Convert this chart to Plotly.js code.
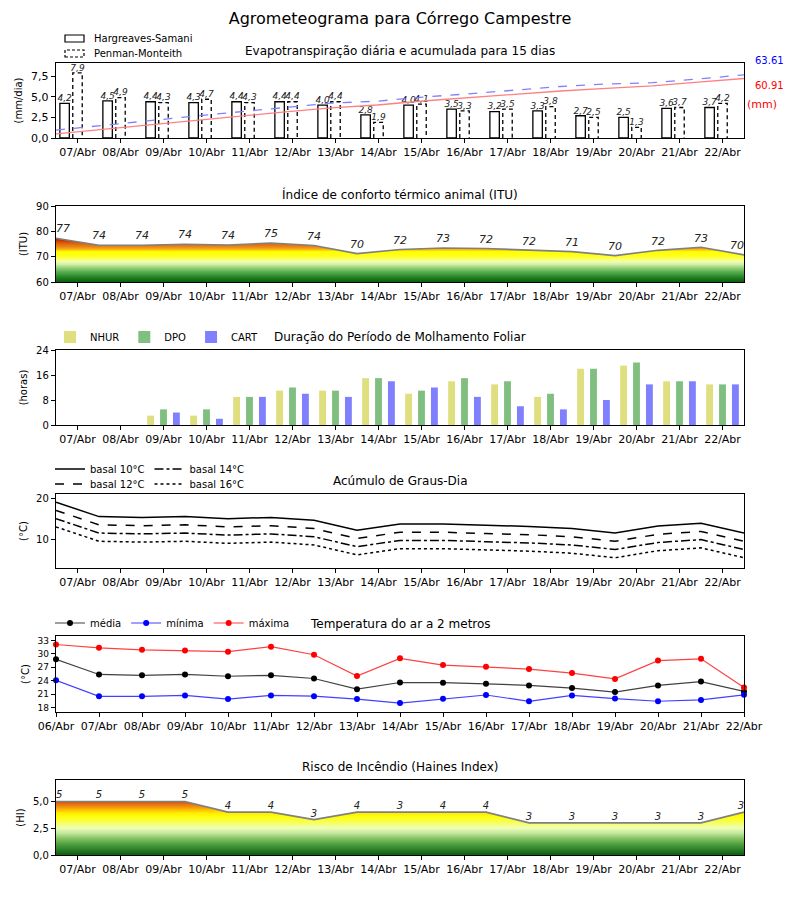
<!DOCTYPE html>
<html><head><meta charset="utf-8">
<script src="https://cdn.plot.ly/plotly-3.0.1.min.js"></script>
<style>body{margin:0;background:#fff}</style>
</head><body><div id="chart" style="width:800px;height:900px"></div>
<script>
// ---------- DATA ----------
const days = ['06/Abr','07/Abr','08/Abr','09/Abr','10/Abr','11/Abr','12/Abr','13/Abr','14/Abr','15/Abr','16/Abr','17/Abr','18/Abr','19/Abr','20/Abr','21/Abr','22/Abr'];
const etHS = [4.2,4.5,4.4,4.3,4.4,4.4,4.0,2.8,4.0,3.5,3.2,3.3,2.7,2.5,3.6,3.7];
const etPM = [7.9,4.9,4.3,4.7,4.3,4.4,4.4,1.9,4.1,3.3,3.5,3.8,2.5,1.3,3.7,4.2];
const etTotalLabels = ['63.61','60.91'];
const itu = [77.3,74.5,74.5,74.9,74.6,75.4,74.4,71.2,72.8,73.4,73.2,72.5,72.0,70.4,72.5,73.7,70.7];
const ituLabels = [77,74,74,74,74,75,74,70,72,73,72,72,71,70,72,73,70];
const nhur = [0,0,3,3,9,11,11,15,10,14,13,9,18,19,14,13];
const dpo  = [0,0,5,5,9,12,11,15,11,15,14,10,18,20,14,13];
const cart = [0,0,4,2,9,10,9,14,12,9,6,5,8,13,14,13];
const gd10 = [19.0,15.5,15.3,15.5,15.0,15.3,14.6,12.2,13.7,13.7,13.4,13.1,12.6,11.5,13.2,13.9,11.5];
const gd12 = [17.0,13.5,13.3,13.5,13.0,13.3,12.6,10.2,11.7,11.7,11.4,11.1,10.6,9.5,11.2,11.9,9.5];
const gd14 = [15.0,11.5,11.3,11.5,11.0,11.3,10.6,8.2,9.7,9.7,9.4,9.1,8.6,7.5,9.2,9.9,7.5];
const gd16 = [13.0,9.5,9.3,9.5,9.0,9.3,8.6,6.2,7.7,7.7,7.4,7.1,6.6,5.5,7.2,7.9,5.5];
const tMedia = [28.8,25.4,25.2,25.4,25.0,25.2,24.5,22.1,23.6,23.55,23.3,22.95,22.35,21.45,22.95,23.8,21.6];
const tMin   = [24.1,20.5,20.5,20.7,19.9,20.7,20.55,19.9,19.0,19.95,20.8,19.4,20.7,20.0,19.4,19.7,20.85];
const tMax   = [32.1,31.35,30.9,30.75,30.5,31.6,29.8,25.05,29.0,27.5,27.1,26.6,25.7,24.4,28.5,28.9,22.5];
const haines = [5,5,5,5,4,4,3.3,4,4,4,4,3,3,3,3,3,4];
const hainesLabels = [5,5,5,5,4,4,3,4,3,4,4,3,3,3,3,3,3];

// ---------- HELPERS ----------
const FONT = 'DejaVu Sans';
const idx = days.map((d,i)=>i);            // 0..16 (06/Abr = 0)
const barDays = idx.slice(1);              // 1..16 (07..22)
const half = idx.map(i=>i+0.5);            // 0.5..16.5
const fmt = v => v.toFixed(1).replace('.', ',');
const cumsum = a => { let s=0; return a.map(v => (s+=v)); };
const L=56, R=744, T=63, B=855;
const px2x = p => (p-L)/(R-L);
const py2y = p => (B-p)/(B-T);
const edgeTextPos = n => idx.map(i => i===0 ? 'top right' : (i===n-1 ? 'top left' : 'top center'));

const hsX = barDays.map(d=>d-0.3);
const pmX = barDays.slice();
const bw = 0.22;
// dashed outline for PM bars
const pmOX=[], pmOY=[];
pmX.forEach((x,i)=>{ pmOX.push(x-bw/2,x-bw/2,x+bw/2,x+bw/2,null); pmOY.push(0,etPM[i],etPM[i],0,null); });
const cumX = etPM.map((v,i)=>0.5 + i*16/(etPM.length-1));

const ituScale = [[0,'#0b5e0b'],[0.05,'#1f7a1f'],[0.1,'#3d9a3d'],[0.15,'#6cb85a'],[0.2,'#a6d98a'],[0.233,'#d4f0a8'],[0.267,'#effdb0'],[0.3,'#fbff70'],[0.333,'#ffff20'],[0.4,'#ffff00'],[0.417,'#ffd000'],[0.44,'#f5a020'],[0.47,'#e88010'],[0.5,'#e06a10'],[0.53,'#d04a08'],[0.567,'#c01800'],[1,'#a00000']];
const hScale = [[0,'#0d5e0d'],[0.071,'#2a7f2a'],[0.143,'#4f9f3f'],[0.214,'#80c060'],[0.286,'#c0e498'],[0.357,'#eeffb8'],[0.429,'#f6ff60'],[0.5,'#ffff10'],[0.557,'#ffee00'],[0.6,'#ffc000'],[0.643,'#f09010'],[0.686,'#e06a10'],[0.714,'#d85000'],[1,'#c03000']];

const traces = [];
// Panel 1 : ET
traces.push({type:'bar', x:hsX, y:etHS, width:bw, xaxis:'x', yaxis:'y', marker:{color:'white', line:{color:'black', width:1.3}}, showlegend:false, hoverinfo:'y'});
traces.push({type:'scatter', mode:'lines', x:pmOX, y:pmOY, xaxis:'x', yaxis:'y', line:{color:'black', width:1.3, dash:'4px,3px'}, showlegend:false, hoverinfo:'skip'});
traces.push({type:'scatter', mode:'text', x:hsX, y:etHS, text:etHS.map(fmt), textposition:'top center', textfont:{family:FONT,size:9,style:'italic',color:'#222'}, xaxis:'x', yaxis:'y', showlegend:false, cliponaxis:false});
traces.push({type:'scatter', mode:'text', x:pmX, y:etPM, text:etPM.map(fmt), textposition:'top center', textfont:{family:FONT,size:9,style:'italic',color:'#222'}, xaxis:'x', yaxis:'y', showlegend:false, cliponaxis:false});
traces.push({type:'scatter', mode:'lines', x:cumX, y:cumsum(etHS), xaxis:'x', yaxis:'y7', line:{color:'#ff8080', width:1.3}, showlegend:false});
traces.push({type:'scatter', mode:'lines', x:cumX, y:cumsum(etPM), xaxis:'x', yaxis:'y7', line:{color:'#8080ff', width:1.3, dash:'dash'}, showlegend:false});
// Panel 2 : ITU
traces.push({type:'scatter', mode:'lines', x:half, y:itu, fill:'tozeroy', fillgradient:{type:'vertical', start:60, stop:90, colorscale:ituScale}, line:{color:'#808080', width:1.6}, xaxis:'x2', yaxis:'y2', showlegend:false});
traces.push({type:'scatter', mode:'text', x:half, y:itu.map(v=>v+1.2), text:ituLabels.map(String), textposition:edgeTextPos(17), textfont:{family:FONT,size:11,style:'italic',color:'#222'}, xaxis:'x2', yaxis:'y2', showlegend:false, cliponaxis:false});
// Panel 3 : wetness
[[nhur,'NHUR','#dfdf80',-0.3],[dpo,'DPO','#80bf80',0],[cart,'CART','#8080ff',0.3]].forEach(([arr,name,col,off])=>{
  traces.push({type:'bar', name:name, x:barDays.map(d=>d+off), y:arr, width:0.16, marker:{color:col}, xaxis:'x3', yaxis:'y3', legend:'legend2'});
});
// Panel 4 : degree days
traces.push({type:'scatter', mode:'lines', name:'basal 10°C', x:half, y:gd10, line:{color:'black', width:1.5, dash:'solid'}, xaxis:'x4', yaxis:'y4', legend:'legend3'});
traces.push({type:'scatter', mode:'lines', name:'basal 14°C', x:half, y:gd14, line:{color:'black', width:1.5, dash:'dashdot'}, xaxis:'x4', yaxis:'y4', legend:'legend3'});
traces.push({type:'scatter', mode:'lines', name:'basal 12°C', x:half, y:gd12, line:{color:'black', width:1.5, dash:'dash'}, xaxis:'x4', yaxis:'y4', legend:'legend5'});
traces.push({type:'scatter', mode:'lines', name:'basal 16°C', x:half, y:gd16, line:{color:'black', width:1.5, dash:'dot'}, xaxis:'x4', yaxis:'y4', legend:'legend5'});
// Panel 5 : temperature
[[tMedia,'média','#000000','rgba(0,0,0,0.75)'],[tMin,'mínima','#0000ff','rgba(0,0,255,0.75)'],[tMax,'máxima','#ff0000','rgba(255,0,0,0.75)']].forEach(([arr,name,mc,lc])=>{
  traces.push({type:'scatter', mode:'lines+markers', name:name, x:idx, y:arr, line:{color:lc, width:1.2}, marker:{color:mc, size:6}, xaxis:'x5', yaxis:'y5', legend:'legend4', cliponaxis:false});
});
// Panel 6 : Haines
traces.push({type:'scatter', mode:'lines', x:half, y:haines, fill:'tozeroy', fillgradient:{type:'vertical', start:0, stop:7, colorscale:hScale}, line:{color:'#808080', width:1.6}, xaxis:'x6', yaxis:'y6', showlegend:false});
traces.push({type:'scatter', mode:'text', x:half, y:haines.map(v=>v+0.05), text:hainesLabels.map(String), textposition:edgeTextPos(17), textfont:{family:FONT,size:10,style:'italic',color:'#222'}, xaxis:'x6', yaxis:'y6', showlegend:false, cliponaxis:false});

// ---------- AXES ----------
const domains = [[63,138],[206,282],[350,425],[494,568],[636,712],[780,855]].map(([a,b])=>[py2y(b), py2y(a)]);
const baseX = (i, temp) => ({
  domain:[0,1], anchor:'y'+(i===1?'':i),
  range: temp ? [0,16] : [0.5,16.5],
  tickvals: temp ? idx : barDays, ticktext: temp ? days : days.slice(1),
  showline:true, mirror:true, linecolor:'black', linewidth:1.2, ticks:'outside', ticklen:4, tickcolor:'black',
  showgrid:false, zeroline:false, tickfont:{family:FONT, size:11, color:'black'}, fixedrange:true
});
const baseY = (i, range, tickvals, title, tf, fs, standoff) => ({
  domain:domains[i-1], anchor:'x'+(i===1?'':i), range:range, tickvals:tickvals, tickformat:tf||'',
  showline:true, mirror:true, linecolor:'black', linewidth:1.2, ticks:'outside', ticklen:4, tickcolor:'black',
  showgrid:false, zeroline:false, tickfont:{family:FONT, size:fs||10, color:'black'},
  title:{text:title, font:{family:FONT, size:10, color:'black'}, standoff:standoff||6}, fixedrange:true
});

const layout = {
  width:800, height:900, paper_bgcolor:'white', plot_bgcolor:'white',
  margin:{l:L, r:800-R, t:T, b:900-B}, separators:',.', barmode:'overlay',
  font:{family:FONT, size:10, color:'black'},
  title:{text:'Agrometeograma para Córrego Campestre', font:{family:FONT, size:16, color:'black'}, x:0.5, xanchor:'center', y:1-18/900, yanchor:'middle', yref:'container'},
  xaxis:baseX(1), xaxis2:baseX(2), xaxis3:baseX(3), xaxis4:baseX(4), xaxis5:baseX(5,true), xaxis6:baseX(6),
  yaxis:baseY(1,[0,9.1],[0,2.5,5,7.5],'(mm/dia)','.1f',11,6),
  yaxis7:{overlaying:'y', side:'right', anchor:'x', range:[0,75], showticklabels:false, ticks:'', showline:false, showgrid:false, zeroline:false, fixedrange:true},
  yaxis2:baseY(2,[60,90],[60,70,80,90],'(ITU)','',10,6),
  yaxis3:baseY(3,[0,24],[0,8,16,24],'(horas)','',10,6),
  yaxis4:baseY(4,[3,21],[10,20],'(°C)','',10,6),
  yaxis5:baseY(5,[17,34],[18,21,24,27,30,33],'(°C)','',9,6),
  yaxis6:baseY(6,[0,7],[0,2.5,5],'(HI)','.1f',10,6),
  legend2:{orientation:'h', x:px2x(50), xanchor:'left', y:py2y(337), yanchor:'middle', bgcolor:'rgba(0,0,0,0)', font:{family:FONT,size:10}, itemwidth:30},
  legend3:{orientation:'h', x:px2x(50), xanchor:'left', y:py2y(469), yanchor:'middle', bgcolor:'rgba(0,0,0,0)', font:{family:FONT,size:10}, itemwidth:30, tracegroupgap:0},
  legend5:{orientation:'h', x:px2x(50), xanchor:'left', y:py2y(484), yanchor:'middle', bgcolor:'rgba(0,0,0,0)', font:{family:FONT,size:10}, itemwidth:30, tracegroupgap:0},
  legend4:{orientation:'h', x:px2x(50), xanchor:'left', y:py2y(623), yanchor:'middle', bgcolor:'rgba(0,0,0,0)', font:{family:FONT,size:10}, itemwidth:30},
  shapes:[
    {type:'rect', xref:'paper', yref:'paper', x0:px2x(65), x1:px2x(84), y0:py2y(42), y1:py2y(35), line:{color:'black', width:1.2}, fillcolor:'white'},
    {type:'rect', xref:'paper', yref:'paper', x0:px2x(65), x1:px2x(84), y0:py2y(57), y1:py2y(50), line:{color:'black', width:1.2, dash:'3px,2px'}, fillcolor:'white'}
  ],
  annotations:[
    {text:'Hargreaves-Samani', xref:'paper', yref:'paper', x:px2x(92), y:py2y(38.5), xanchor:'left', yanchor:'middle', showarrow:false, font:{family:FONT,size:10}},
    {text:'Penman-Monteith', xref:'paper', yref:'paper', x:px2x(92), y:py2y(53.5), xanchor:'left', yanchor:'middle', showarrow:false, font:{family:FONT,size:10}},
    {text:'Evapotranspiração diária e acumulada para 15 dias', xref:'paper', yref:'paper', x:0.5, y:py2y(51), xanchor:'center', yanchor:'middle', showarrow:false, font:{family:FONT,size:12}},
    {text:etTotalLabels[0], xref:'paper', yref:'paper', x:px2x(769), y:py2y(61), xanchor:'center', yanchor:'middle', showarrow:false, font:{family:FONT,size:10,color:'#0000ff'}},
    {text:etTotalLabels[1], xref:'paper', yref:'paper', x:px2x(769), y:py2y(85), xanchor:'center', yanchor:'middle', showarrow:false, font:{family:FONT,size:10,color:'#ff0000'}},
    {text:'(mm)', xref:'paper', yref:'paper', x:px2x(762), y:py2y(105), xanchor:'center', yanchor:'middle', showarrow:false, font:{family:FONT,size:11,color:'#ff0000'}},
    {text:'Índice de conforto térmico animal (ITU)', xref:'paper', yref:'paper', x:0.5, y:py2y(194), xanchor:'center', yanchor:'middle', showarrow:false, font:{family:FONT,size:12}},
    {text:'Duração do Período de Molhamento Foliar', xref:'paper', yref:'paper', x:0.5, y:py2y(337), xanchor:'center', yanchor:'middle', showarrow:false, font:{family:FONT,size:12}},
    {text:'Acúmulo de Graus-Dia', xref:'paper', yref:'paper', x:0.5, y:py2y(481), xanchor:'center', yanchor:'middle', showarrow:false, font:{family:FONT,size:12}},
    {text:'Temperatura do ar a 2 metros', xref:'paper', yref:'paper', x:0.5, y:py2y(624), xanchor:'center', yanchor:'middle', showarrow:false, font:{family:FONT,size:12}},
    {text:'Risco de Incêndio (Haines Index)', xref:'paper', yref:'paper', x:0.5, y:py2y(767), xanchor:'center', yanchor:'middle', showarrow:false, font:{family:FONT,size:12}}
  ]
};
Plotly.newPlot('chart', traces, layout, {staticPlot:true, displayModeBar:false});
</script></body></html>
